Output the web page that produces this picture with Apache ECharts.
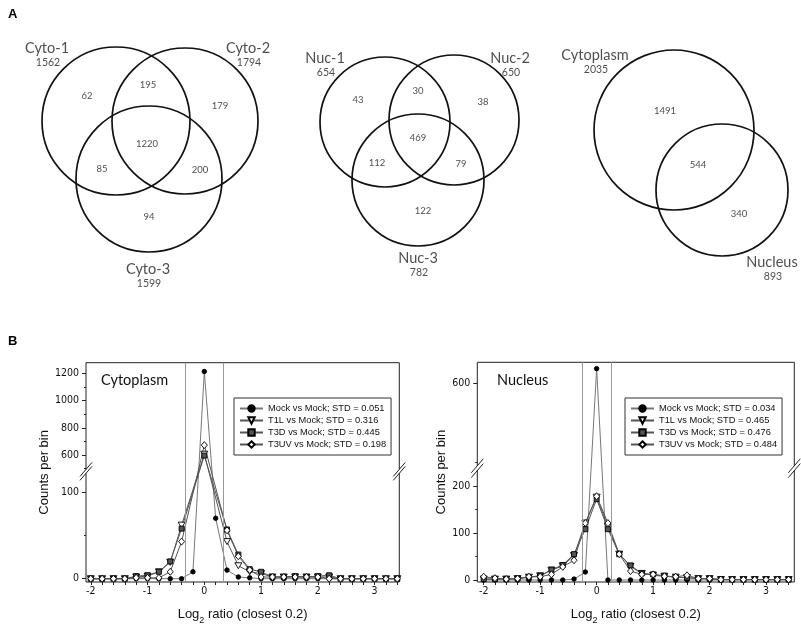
<!DOCTYPE html>
<html>
<head>
<meta charset="utf-8">
<script src="https://cdn.jsdelivr.net/npm/echarts@6/dist/echarts.min.js"></script>
<style>
html, body { margin: 0; padding: 0; background: #fff; }
#main { width: 801px; height: 626px; }
</style>
</head>
<body>
<div id="main"></div>
<script>
// ---------- panel B data: counts per 0.2 bin of log2 ratio ----------
var xBins = [-2, -1.8, -1.6, -1.4, -1.2, -1, -0.8, -0.6, -0.4, -0.2, 0, 0.2, 0.4, 0.6,
             0.8, 1, 1.2, 1.4, 1.6, 1.8, 2, 2.2, 2.4, 2.6, 2.8, 3, 3.2, 3.4];
var xLabels = [-2, -1, 0, 1, 2, 3];

// Cytoplasm (null = inside the axis break, not drawn)
var cytoMock = [0, 0, 0, 0, 0, 0, 0, 0, 0, 8, 1215, 70, 10, 2, 1, 0, 0, 0, 0, 0, 0, 0, 0, 0, 0, 0, 0, 0];
var cytoT1L  = [0, 0, 0, 0, 2, 3, 8, 19, 62, null, 605, null, 43, 15, 8, 6, 2, 2, 2, 2, 2, 2, 0, 0, 0, 0, 0, 0];
var cytoT3D  = [0, 0, 0, 0, 3, 4, 8, 20, 58, null, 595, null, 57, 28, 11, 8, 2, 2, 3, 2, 3, 4, 0, 0, 0, 0, 0, 0];
var cytoT3UV = [0, 0, 0, 0, 1, 1, 1, 8, 43, null, 672, null, 56, 26, 10, 2, 2, 2, 2, 2, 2, 0, 0, 0, 0, 0, 0, 0];
var cytoNames = ['Mock vs Mock; STD = 0.051', 'T1L vs Mock; STD = 0.316',
                 'T3D vs Mock; STD = 0.445', 'T3UV vs Mock; STD = 0.198'];
var cytoCutoff = [-0.34, 0.34];
var cytoYLabels = [0, 100, 600, 800, 1000, 1200];
var cytoYMinor = [50, 500, 700, 900, 1100];

// Nucleus
var nucMock = [0, 0, 0, 0, 0, 0, 0, 0, 2, 17, 618, 0, 0, 0, 0, 0, 0, 0, 0, 0, 0, 0, 0, 0, 0, 0, 0, 0];
var nucT1L  = [2, 2, 2, 3, 6, 9, 21, 30, 52, 121, 176, 114, 55, 29, 14, 10, 8, 6, 5, 3, 3, 1, 1, 1, 1, 1, 1, 1];
var nucT3D  = [2, 2, 2, 3, 6, 9, 22, 32, 55, 108, 172, 108, 55, 31, 14, 12, 9, 6, 5, 3, 3, 1, 1, 1, 1, 1, 1, 1];
var nucT3UV = [7, 4, 2, 3, 7, 7, 12, 28, 42, 121, 178, 121, 55, 19, 12, 12, 8, 7, 10, 3, 3, 1, 1, 1, 1, 1, 1, 1];
var nucNames = ['Mock vs Mock; STD = 0.034', 'T1L vs Mock; STD = 0.465',
                'T3D vs Mock; STD = 0.476', 'T3UV vs Mock; STD = 0.484'];
var nucCutoff = [-0.25, 0.25];
var nucYLabels = [0, 100, 200, 600];
var nucYMinor = [50, 150, 500];

// ---------- panel A data: Venn counts ----------
var venn1Sets = ['Cyto-1', 'Cyto-2', 'Cyto-3'];
var venn1Totals = [1562, 1794, 1599];
var venn1Regions = [62, 195, 179, 85, 1220, 200, 94];
var venn2Sets = ['Nuc-1', 'Nuc-2', 'Nuc-3'];
var venn2Totals = [654, 650, 782];
var venn2Regions = [43, 30, 38, 112, 469, 79, 122];
var venn3Sets = ['Cytoplasm', 'Nucleus'];
var venn3Totals = [2035, 893];
var venn3Regions = [1491, 544, 340];

// ---------- layout (venn grid is mapped 1:1 onto the page) ----------
var venn1Circles = [[116, 121, 74], [185, 121, 73], [149, 179, 73]];
var venn1SetPos = [[47, 48], [248, 48], [148, 269]];
var venn1RegionPos = [[87, 96], [148, 85], [220, 106], [102, 169], [147, 144], [200, 170], [149, 217]];
var venn2Circles = [[385, 122, 65], [454, 120, 65], [418, 180, 66]];
var venn2SetPos = [[325, 58], [510, 58], [418, 258]];
var venn2RegionPos = [[358, 100], [418, 91], [483, 102], [377, 163], [418, 138], [461, 164], [423, 211]];
var venn3Circles = [[674, 130, 80], [722, 190, 66]];
var venn3SetPos = [[595, 55], [772, 262]];
var venn3RegionPos = [[665, 111], [698, 165], [739, 214]];

// broken y axes: lower and upper segments share one grid
var cytoBreak = { lowMin: -3.8, lowMax: 122, highMin: 493, highMax: 1280, lowFrac: 0.4955, gapFrac: 0.018 };
var nucBreak = { lowMin: -4.2, lowMax: 232.5, highMin: 495.4, highMax: 626, lowFrac: 0.507, gapFrac: 0.022 };

var ARIAL = "'Liberation Sans', Arial, sans-serif";
var NARROW = "'Liberation Sans Narrow', 'DejaVu Sans Condensed', 'Liberation Sans', sans-serif";
var CAL = "Lato, 'Open Sans', sans-serif";

function toDisp(v, b) {
    if (v == null) return null;
    if (v <= b.lowMax) return (v - b.lowMin) / (b.lowMax - b.lowMin) * b.lowFrac;
    if (v >= b.highMin) {
        return b.lowFrac + b.gapFrac + (v - b.highMin) / (b.highMax - b.highMin) * (1 - b.lowFrac - b.gapFrac);
    }
    return null;
}

var myChart = echarts.init(document.getElementById('main'));

// ---- venn series ----
var circles = venn1Circles.concat(venn2Circles, venn3Circles);
var setLabels = [], totalLabels = [], regionLabels = [];
function addVenn(sets, totals, regions, setPos, regionPos) {
    sets.forEach(function (s, i) {
        setLabels.push([setPos[i][0], setPos[i][1], s]);
        totalLabels.push([setPos[i][0] + 1, setPos[i][1] + 15, String(totals[i])]);
    });
    regions.forEach(function (n, i) {
        regionLabels.push([regionPos[i][0], regionPos[i][1], String(n)]);
    });
}
addVenn(venn1Sets, venn1Totals, venn1Regions, venn1SetPos, venn1RegionPos);
addVenn(venn2Sets, venn2Totals, venn2Regions, venn2SetPos, venn2RegionPos);
addVenn(venn3Sets, venn3Totals, venn3Regions, venn3SetPos, venn3RegionPos);

function textSeries(data, size) {
    return {
        type: 'scatter', xAxisIndex: 0, yAxisIndex: 0, data: data, silent: true,
        symbolSize: 1, itemStyle: { color: 'rgba(0,0,0,0)' },
        label: {
            show: true, position: 'inside', color: '#222', fontSize: size, fontFamily: CAL,
            formatter: function (p) { return p.value[2]; }
        }
    };
}

// ---- panel B helpers ----
var markerStyles = [
    { symbol: 'circle', size: 4.5, fill: '#000', line: '#777' },
    { symbol: 'path://M0,0 L10,0 L5,9 Z', size: [7, 6], fill: '#fff', line: '#555' },
    { symbol: 'rect', size: 5, fill: '#555', line: '#555' },
    { symbol: 'diamond', size: [6, 7], fill: '#fff', line: '#555' }
];

function lineSeries(name, vals, b, k, xi, yi) {
    var m = markerStyles[k];
    return {
        type: 'line', name: name, xAxisIndex: xi, yAxisIndex: yi,
        data: xBins.map(function (x, i) { return [x, toDisp(vals[i], b)]; }),
        connectNulls: true, showSymbol: true, symbol: m.symbol, symbolSize: m.size,
        lineStyle: { color: m.line, width: 1 },
        itemStyle: { color: m.fill, borderColor: '#000', borderWidth: 0.9 },
        emphasis: { disabled: true }
    };
}

function cutoffSeries(cut, xi, yi) {
    return {
        type: 'line', name: 'cut' + xi, xAxisIndex: xi, yAxisIndex: yi, data: [], z: 4, silent: true,
        markLine: {
            symbol: 'none', silent: true, label: { show: false },
            lineStyle: { color: '#9a9a9a', width: 1, type: 'solid' },
            data: cut.map(function (v) { return { xAxis: v }; })
        }
    };
}

function breakSeries(b, xi, yi) {
    return {
        type: 'custom', name: 'brk' + xi, xAxisIndex: xi, yAxisIndex: yi, data: [[0, 0]],
        z: 3, silent: true, clip: false,
        renderItem: function (params, api) {
            var cs = params.coordSys;
            var yLow = api.coord([0, b.lowFrac])[1];
            var yHigh = api.coord([0, b.lowFrac + b.gapFrac])[1];
            var children = [{
                type: 'rect',
                shape: { x: cs.x - 3, y: yHigh, width: cs.width + 6, height: yLow - yHigh },
                style: { fill: '#fff' }
            }];
            [cs.x, cs.x + cs.width].forEach(function (gx) {
                [yLow, yHigh].forEach(function (yy) {
                    children.push({
                        type: 'line',
                        shape: { x1: gx - 6, y1: yy + 7, x2: gx + 6, y2: yy - 7 },
                        style: { stroke: '#222', lineWidth: 1 }
                    });
                });
            });
            return { type: 'group', children: children };
        }
    };
}

function mainYAxis(gi, b, labels, nameGap) {
    var vals = labels.map(function (v) { return toDisp(v, b); });
    return {
        type: 'value', gridIndex: gi, min: 0, max: 1, position: 'left',
        name: 'Counts per bin', nameLocation: 'middle', nameGap: nameGap,
        nameTextStyle: { fontSize: 13, fontFamily: ARIAL, color: '#111' },
        axisLine: { show: false, onZero: false }, splitLine: { show: false },
        axisTick: { show: true, length: 4, customValues: vals, lineStyle: { color: '#222' } },
        axisLabel: {
            customValues: vals, margin: 7, fontSize: 10.5, color: '#111', fontFamily: NARROW,
            formatter: function (val) {
                var best = labels[0], bd = Infinity;
                labels.forEach(function (v, i) {
                    var d = Math.abs(vals[i] - val);
                    if (d < bd) { bd = d; best = v; }
                });
                return String(best);
            }
        }
    };
}

function minorYAxis(gi, b, minors) {
    return {
        type: 'value', gridIndex: gi, min: 0, max: 1, position: 'left', offset: 0,
        axisLine: { show: false, onZero: false }, splitLine: { show: false }, axisLabel: { show: false },
        axisTick: {
            show: true, length: 2,
            customValues: minors.map(function (v) { return toDisp(v, b); }),
            lineStyle: { color: '#222' }
        }
    };
}

function ratioXAxis(gi, min, max) {
    return {
        type: 'value', gridIndex: gi, min: min, max: max, position: 'bottom',
        name: 'Log{sub|2} ratio (closest 0.2)', nameLocation: 'middle', nameGap: 24,
        nameTextStyle: {
            fontSize: 13, fontFamily: ARIAL, color: '#111', lineHeight: 16,
            rich: { sub: { fontSize: 9, fontFamily: ARIAL, color: '#111', verticalAlign: 'bottom', lineHeight: 9, padding: [0, 0, -3, 0] } }
        },
        axisLine: { show: false, onZero: false }, splitLine: { show: false },
        axisTick: { show: true, length: 3, customValues: xBins, lineStyle: { color: '#222' } },
        axisLabel: {
            customValues: xLabels, margin: 4, fontSize: 10.5, color: '#111', fontFamily: NARROW,
            formatter: function (v) { return String(v); }
        }
    };
}

function legendBox(names, left) {
    return {
        data: names, left: left, top: 398, orient: 'vertical', selectedMode: false,
        itemWidth: 23, itemHeight: 8, itemGap: 3, padding: [6, 5, 6, 5],
        borderColor: '#333', borderWidth: 1,
        textStyle: { fontSize: 9.3, fontFamily: ARIAL, color: '#111' }
    };
}

var option = {
    animation: false,
    backgroundColor: '#fff',
    title: [
        { text: 'A', left: 3, top: 3, textStyle: { fontSize: 13, fontWeight: 'bold', fontFamily: ARIAL, color: '#000' } },
        { text: 'B', left: 3, top: 330, textStyle: { fontSize: 13, fontWeight: 'bold', fontFamily: ARIAL, color: '#000' } },
        { text: 'Cytoplasm', left: 96, top: 368, textStyle: { fontSize: 14.5, fontWeight: 'normal', fontFamily: CAL, color: '#111' } },
        { text: 'Nucleus', left: 492, top: 368, textStyle: { fontSize: 14.5, fontWeight: 'normal', fontFamily: CAL, color: '#111' } }
    ],
    legend: [legendBox(cytoNames, 234), legendBox(nucNames, 625)],
    grid: [
        { left: 0, top: 0, width: 801, height: 626, show: false },
        { left: 86, top: 362.7, width: 313.3, height: 224, show: true, borderColor: '#222', borderWidth: 1 },
        { left: 477.3, top: 362.3, width: 317, height: 224.7, show: true, borderColor: '#222', borderWidth: 1 }
    ],
    xAxis: [
        { type: 'value', gridIndex: 0, min: 0, max: 801, show: false },
        ratioXAxis(1, -2.084, 3.435),
        ratioXAxis(2, -2.113, 3.5)
    ],
    yAxis: [
        { type: 'value', gridIndex: 0, min: 0, max: 626, inverse: true, show: false },
        mainYAxis(1, cytoBreak, cytoYLabels, 29),
        minorYAxis(1, cytoBreak, cytoYMinor),
        mainYAxis(2, nucBreak, nucYLabels, 23),
        minorYAxis(2, nucBreak, nucYMinor)
    ],
    series: [
        {
            type: 'custom', xAxisIndex: 0, yAxisIndex: 0, data: circles, silent: true,
            renderItem: function (params, api) {
                var c = api.coord([api.value(0), api.value(1)]);
                var r = api.size([api.value(2), 0])[0];
                return {
                    type: 'circle', shape: { cx: c[0], cy: c[1], r: r },
                    style: { fill: 'none', stroke: '#111', lineWidth: 1.7 }
                };
            }
        },
        textSeries(setLabels, 14.5),
        textSeries(totalLabels, 10.5),
        textSeries(regionLabels, 9.5),

        lineSeries(cytoNames[0], cytoMock, cytoBreak, 0, 1, 1),
        lineSeries(cytoNames[1], cytoT1L, cytoBreak, 1, 1, 1),
        lineSeries(cytoNames[2], cytoT3D, cytoBreak, 2, 1, 1),
        lineSeries(cytoNames[3], cytoT3UV, cytoBreak, 3, 1, 1),
        breakSeries(cytoBreak, 1, 1),
        cutoffSeries(cytoCutoff, 1, 1),

        lineSeries(nucNames[0], nucMock, nucBreak, 0, 2, 3),
        lineSeries(nucNames[1], nucT1L, nucBreak, 1, 2, 3),
        lineSeries(nucNames[2], nucT3D, nucBreak, 2, 2, 3),
        lineSeries(nucNames[3], nucT3UV, nucBreak, 3, 2, 3),
        breakSeries(nucBreak, 2, 3),
        cutoffSeries(nucCutoff, 2, 3)
    ]
};

myChart.setOption(option);
</script>
</body>
</html>
